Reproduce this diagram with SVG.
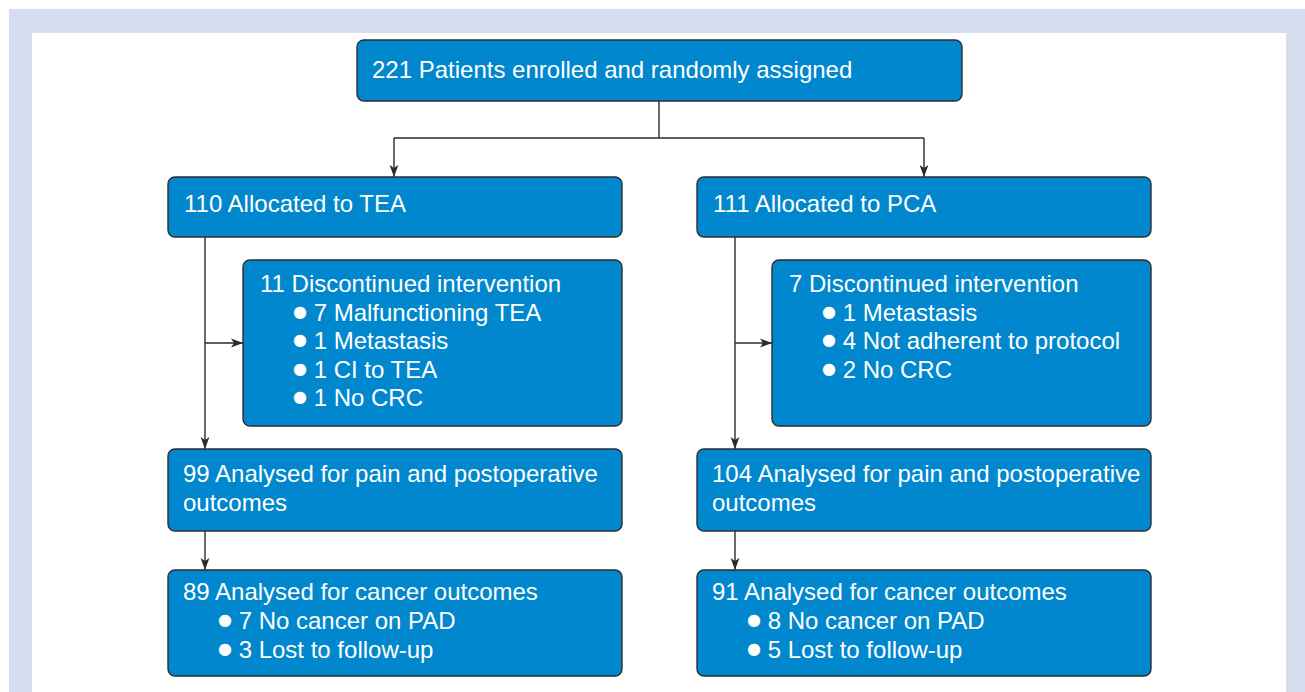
<svg xmlns="http://www.w3.org/2000/svg" width="1305" height="692" viewBox="0 0 1305 692">
  <defs>
    <marker id="arrow" viewBox="0 0 12 10" refX="12" refY="5" markerWidth="12" markerHeight="10" markerUnits="userSpaceOnUse" orient="auto">
      <path d="M0,0.6 L12,5 L0,9.4 L3,5 Z" fill="#2b2b2b"/>
    </marker>
  </defs>
  <style>
    .box { fill: #0187CE; stroke: #2e2e2e; stroke-width: 1.4; }
    .lbl { fill: #ffffff; font-family: "Liberation Sans", Arial, Helvetica, sans-serif; font-size: 24px; }
    .bul { font-family: "DejaVu Sans", sans-serif; font-size: 16px; baseline-shift: 4px; }
    .conn { fill: none; stroke: #2b2b2b; stroke-width: 1.4; }
  </style>

  <!-- frame -->
  <rect x="0" y="0" width="1305" height="692" fill="#ffffff"/>
  <rect x="9" y="9" width="1296" height="683" fill="#D5DDEE"/>
  <rect x="32" y="33" width="1254" height="659" fill="#ffffff"/>

  <!-- connectors -->
  <g id="connectors">
    <path class="conn" d="M659,101 V138"/>
    <path class="conn" d="M394,138 H924"/>
    <path class="conn" d="M394,138 V177" marker-end="url(#arrow)"/>
    <path class="conn" d="M924,138 V177" marker-end="url(#arrow)"/>
    <path class="conn" d="M205,237 V449" marker-end="url(#arrow)"/>
    <path class="conn" d="M205,343 H243" marker-end="url(#arrow)"/>
    <path class="conn" d="M735,237 V449" marker-end="url(#arrow)"/>
    <path class="conn" d="M735,343 H772" marker-end="url(#arrow)"/>
    <path class="conn" d="M205,531 V570" marker-end="url(#arrow)"/>
    <path class="conn" d="M735,531 V570" marker-end="url(#arrow)"/>
  </g>

  <!-- nodes -->
  <g id="enrolled">
    <rect class="box" x="357" y="40" width="605" height="61" rx="7"/>
    <text class="lbl" x="372" y="78">221 Patients enrolled and randomly assigned</text>
  </g>

  <g id="tea-allocated">
    <rect class="box" x="168" y="177" width="454" height="60" rx="7"/>
    <text class="lbl" x="184" y="212">110 Allocated to TEA</text>
  </g>

  <g id="pca-allocated">
    <rect class="box" x="697" y="177" width="454" height="60" rx="7"/>
    <text class="lbl" x="713" y="212">111 Allocated to PCA</text>
  </g>

  <g id="tea-discontinued">
    <rect class="box" x="243" y="260" width="379" height="166" rx="7"/>
    <text class="lbl" x="260" y="292">11 Discontinued intervention</text>
    <text class="lbl" x="293" y="320.6"><tspan class="bul">●</tspan> 7 Malfunctioning TEA</text>
    <text class="lbl" x="293" y="349.2"><tspan class="bul">●</tspan> 1 Metastasis</text>
    <text class="lbl" x="293" y="377.8"><tspan class="bul">●</tspan> 1 CI to TEA</text>
    <text class="lbl" x="293" y="406.4"><tspan class="bul">●</tspan> 1 No CRC</text>
  </g>

  <g id="pca-discontinued">
    <rect class="box" x="772" y="260" width="379" height="166" rx="7"/>
    <text class="lbl" x="789" y="292">7 Discontinued intervention</text>
    <text class="lbl" x="822" y="320.6"><tspan class="bul">●</tspan> 1 Metastasis</text>
    <text class="lbl" x="822" y="349.2"><tspan class="bul">●</tspan> 4 Not adherent to protocol</text>
    <text class="lbl" x="822" y="377.8"><tspan class="bul">●</tspan> 2 No CRC</text>
  </g>

  <g id="tea-pain">
    <rect class="box" x="168" y="449" width="454" height="82" rx="7"/>
    <text class="lbl" x="183" y="482">99 Analysed for pain and postoperative</text>
    <text class="lbl" x="183" y="510.6">outcomes</text>
  </g>

  <g id="pca-pain">
    <rect class="box" x="697" y="449" width="454" height="82" rx="7"/>
    <text class="lbl" x="712" y="482">104 Analysed for pain and postoperative</text>
    <text class="lbl" x="712" y="510.6">outcomes</text>
  </g>

  <g id="tea-cancer">
    <rect class="box" x="168" y="570" width="454" height="106" rx="7"/>
    <text class="lbl" x="183" y="600">89 Analysed for cancer outcomes</text>
    <text class="lbl" x="218" y="629"><tspan class="bul">●</tspan> 7 No cancer on PAD</text>
    <text class="lbl" x="218" y="657.6"><tspan class="bul">●</tspan> 3 Lost to follow-up</text>
  </g>

  <g id="pca-cancer">
    <rect class="box" x="697" y="570" width="454" height="106" rx="7"/>
    <text class="lbl" x="712" y="600">91 Analysed for cancer outcomes</text>
    <text class="lbl" x="747" y="629"><tspan class="bul">●</tspan> 8 No cancer on PAD</text>
    <text class="lbl" x="747" y="657.6"><tspan class="bul">●</tspan> 5 Lost to follow-up</text>
  </g>
</svg>
